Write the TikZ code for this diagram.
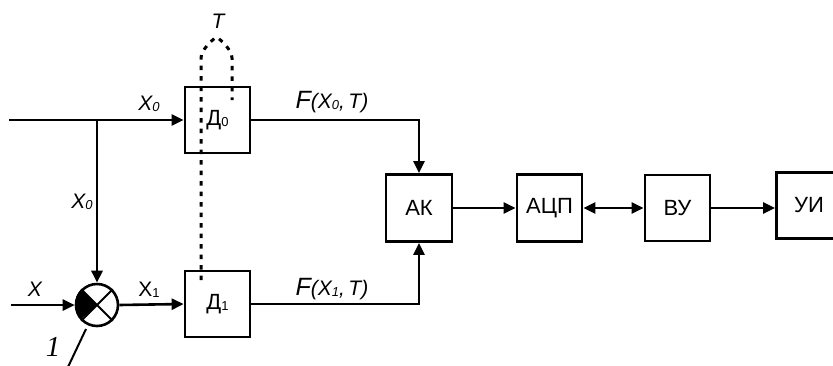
\documentclass[tikz,border=0pt]{standalone}
\usepackage{fontspec}
\setmainfont{Liberation Sans}
\newfontfamily\seriffont{Liberation Serif}
\usetikzlibrary{arrows.meta}
\newcommand{\subu}[1]{\raisebox{-1.5pt}{\fontsize{13}{13}\selectfont #1}}
\newcommand{\subi}[1]{\raisebox{-1.5pt}{\fontsize{13}{13}\selectfont\itshape #1}}
\begin{document}
\begin{tikzpicture}[x=1pt,y=-1pt,
  blk/.style={draw, line width=2.7pt, minimum width=65pt, minimum height=66pt, inner sep=0pt, font=\fontsize{22}{22}\selectfont},
  wire/.style={line width=2.6pt},
  tip/.tip={Triangle[length=12pt,width=11pt]},
  arr/.style={wire, -tip},
  darr/.style={wire, tip-tip},
  dots/.style={line width=3pt, dash pattern=on 4.5pt off 6pt},
  lbl/.style={inner sep=0pt, font=\fontsize{21}{21}\selectfont\itshape},
  ulbl/.style={inner sep=0pt, font=\fontsize{21}{21}\selectfont}]
\useasboundingbox[fill=white] (0,0) rectangle (833,365);
% blocks
\node[blk] (D0) at (217.5,120) {Д\subu{0}};
\node[blk] (D1) at (217.5,304) {Д\subu{1}};
\node[blk, minimum width=66pt, minimum height=67pt] (AK) at (419,208) {АК};
\node[blk, minimum height=67pt] (ADC) at (549.5,208) {АЦП};
\node[blk] (VU) at (677.5,208) {ВУ};
\node[blk] (UI) at (809,205.5) {УИ};
% summing junction
\node[circle, draw, line width=2.6pt, minimum size=42pt, inner sep=0pt] (S) at (97,305) {};
\fill (S.center) -- (S.north west) arc[start angle=225, end angle=135, radius=21] -- cycle;
\draw[line width=1.8pt] (S.north west) -- (S.south east) (S.north east) -- (S.south west);
% inputs
\coordinate (in0) at (9,120);
\coordinate (br) at (97,120);
\coordinate (inX) at (11,305);
\draw[arr] (in0) -- (D0.west);
\draw[arr] (br) -- (S.north);
\draw[arr] (inX) -- (S.west);
\draw[arr] (S.east) -- (D1.west);
% outputs
\draw[arr] (D0.east) -| (AK.north);
\draw[arr] (D1.east) -| (AK.south);
\draw[arr] (AK.east) -- (ADC.west);
\draw[darr] (ADC.east) -- (VU.west);
\draw[arr] (VU.east) -- (VU.east -| UI.west);
% dotted T path
\coordinate (t1) at (201,280);
\coordinate (t2) at (232,100);
\draw[dots] (t1) -- (201,58) .. controls (201,50) and (212,40) .. (216.5,37) .. controls (221,40) and (232,50) .. (232,58) -- (t2);
% labels
\node[lbl] (lT) at (218,21) {T};
\node[lbl] (lx0a) at (149,104) {X\subi{0}};
\node[lbl] (lx0b) at (82,202) {X\subi{0}};
\node[lbl] (lX) at (35,289) {X};
\node[ulbl] (lx1) at (149,290) {X\subu{1}};
\node[lbl] (lF0) at (332,102) {{\fontsize{25}{25}\selectfont F}(X\subi{0},\,T)};
\node[lbl] (lF1) at (332,289) {{\fontsize{25}{25}\selectfont F}(X\subi{1},\,T)};
% marker 1
\coordinate (m1a) at (86,329);
\coordinate (m1b) at (68,367);
\draw[line width=2pt] (m1a) -- (m1b);
\node[inner sep=0pt, font=\fontsize{29}{29}\selectfont\seriffont\itshape] (l1) at (53,347) {1};
\end{tikzpicture}
\end{document}
